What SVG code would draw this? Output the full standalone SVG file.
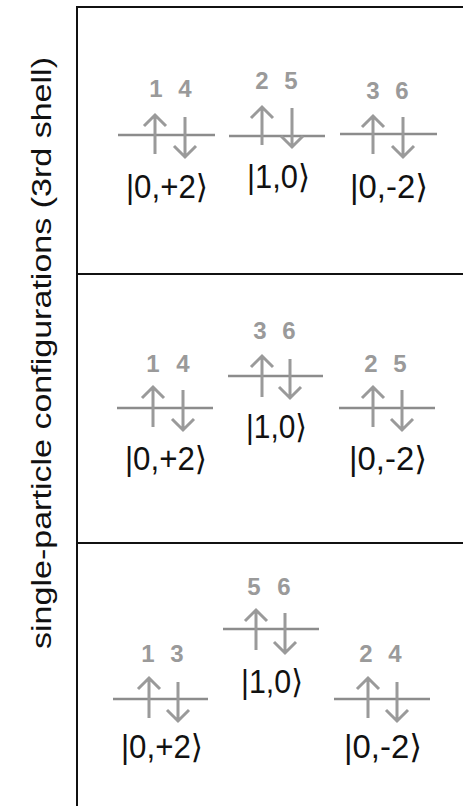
<svg xmlns="http://www.w3.org/2000/svg" width="463" height="806" viewBox="0 0 463 806">
<style>
.frame{stroke:#111;stroke-width:2;fill:none}
.lvl{stroke:#8c8c8c;stroke-width:2.5;fill:none}
.arr{stroke:#9a9a9a;stroke-width:3;fill:none;stroke-linecap:butt;stroke-linejoin:miter}
.num{font-family:"Liberation Sans",Arial,sans-serif;font-weight:bold;font-size:24px;fill:#9a9a9a;text-anchor:middle}
.ket{font-family:"Liberation Sans","DejaVu Sans",sans-serif;font-size:33px;fill:#111}
.side{font-family:"Liberation Sans",Arial,sans-serif;font-size:27px;fill:#111}
</style>
<rect width="463" height="806" fill="#fff"/>
<g id="frame">
<path class="frame" d="M77,6 V806 M77,7 H463 M77,274 H463 M77,543 H463"/>
</g>
<text class="side" transform="translate(51,353) rotate(-90)" text-anchor="middle" textLength="592" lengthAdjust="spacingAndGlyphs">single-particle configurations  (3rd shell)</text>

<g id="p1a">
<path class="lvl" d="M118,135 H215"/>
<path class="arr" d="M155,154 V115 M144,126 L155,115 L166,126 M185,117 V157 M174,146 L185,157 L196,146"/>
<text class="num" x="156" y="97">1</text><text class="num" x="185" y="97">4</text>
<text class="ket" x="126" y="198" textLength="82" lengthAdjust="spacingAndGlyphs">|0,+2⟩</text>
</g>
<g id="p1b">
<path class="lvl" d="M229,136 H325"/>
<path class="arr" d="M262,145 V107 M251,118 L262,107 L273,118 M292,108 V147 M281,136 L292,147 L303,136"/>
<text class="num" x="262" y="89">2</text><text class="num" x="291" y="89">5</text>
<text class="ket" x="247" y="188" textLength="63" lengthAdjust="spacingAndGlyphs">|1,0⟩</text>
</g>
<g id="p1c">
<path class="lvl" d="M340,134 H437"/>
<path class="arr" d="M373,154 V116 M362,127 L373,116 L384,127 M403,117 V157 M392,146 L403,157 L414,146"/>
<text class="num" x="373" y="99">3</text><text class="num" x="402" y="99">6</text>
<text class="ket" x="350" y="198" textLength="78" lengthAdjust="spacingAndGlyphs">|0,-2⟩</text>
</g>

<g id="p2a">
<path class="lvl" d="M117,408 H213"/>
<path class="arr" d="M153,427 V387 M142,398 L153,387 L164,398 M183,390 V430 M172,419 L183,430 L194,419"/>
<text class="num" x="153" y="372">1</text><text class="num" x="183" y="372">4</text>
<text class="ket" x="125" y="470" textLength="82" lengthAdjust="spacingAndGlyphs">|0,+2⟩</text>
</g>
<g id="p2b">
<path class="lvl" d="M228,376 H323"/>
<path class="arr" d="M262,397 V356 M251,367 L262,356 L273,367 M290,359 V398 M279,387 L290,398 L301,387"/>
<text class="num" x="260" y="339">3</text><text class="num" x="289" y="339">6</text>
<text class="ket" x="246" y="438" textLength="61" lengthAdjust="spacingAndGlyphs">|1,0⟩</text>
</g>
<g id="p2c">
<path class="lvl" d="M339,408 H435"/>
<path class="arr" d="M373,427 V387 M362,398 L373,387 L384,398 M402,390 V430 M391,419 L402,430 L413,419"/>
<text class="num" x="371" y="372">2</text><text class="num" x="400" y="372">5</text>
<text class="ket" x="349" y="470" textLength="78" lengthAdjust="spacingAndGlyphs">|0,-2⟩</text>
</g>

<g id="p3a">
<path class="lvl" d="M113,699 H208"/>
<path class="arr" d="M149,718 V678 M138,689 L149,678 L160,689 M178,682 V721 M167,710 L178,721 L189,710"/>
<text class="num" x="148" y="662">1</text><text class="num" x="177" y="662">3</text>
<text class="ket" x="121" y="758" textLength="82" lengthAdjust="spacingAndGlyphs">|0,+2⟩</text>
</g>
<g id="p3b">
<path class="lvl" d="M223,629 H319"/>
<path class="arr" d="M256,650 V610 M245,621 L256,610 L267,621 M285,613 V653 M274,642 L285,653 L296,642"/>
<text class="num" x="254" y="595">5</text><text class="num" x="284" y="595">6</text>
<text class="ket" x="241" y="693" textLength="62" lengthAdjust="spacingAndGlyphs">|1,0⟩</text>
</g>
<g id="p3c">
<path class="lvl" d="M334,699 H430"/>
<path class="arr" d="M368,718 V678 M357,689 L368,678 L379,689 M397,682 V721 M386,710 L397,721 L408,710"/>
<text class="num" x="366" y="662">2</text><text class="num" x="395" y="662">4</text>
<text class="ket" x="344" y="758" textLength="78" lengthAdjust="spacingAndGlyphs">|0,-2⟩</text>
</g>
</svg>
